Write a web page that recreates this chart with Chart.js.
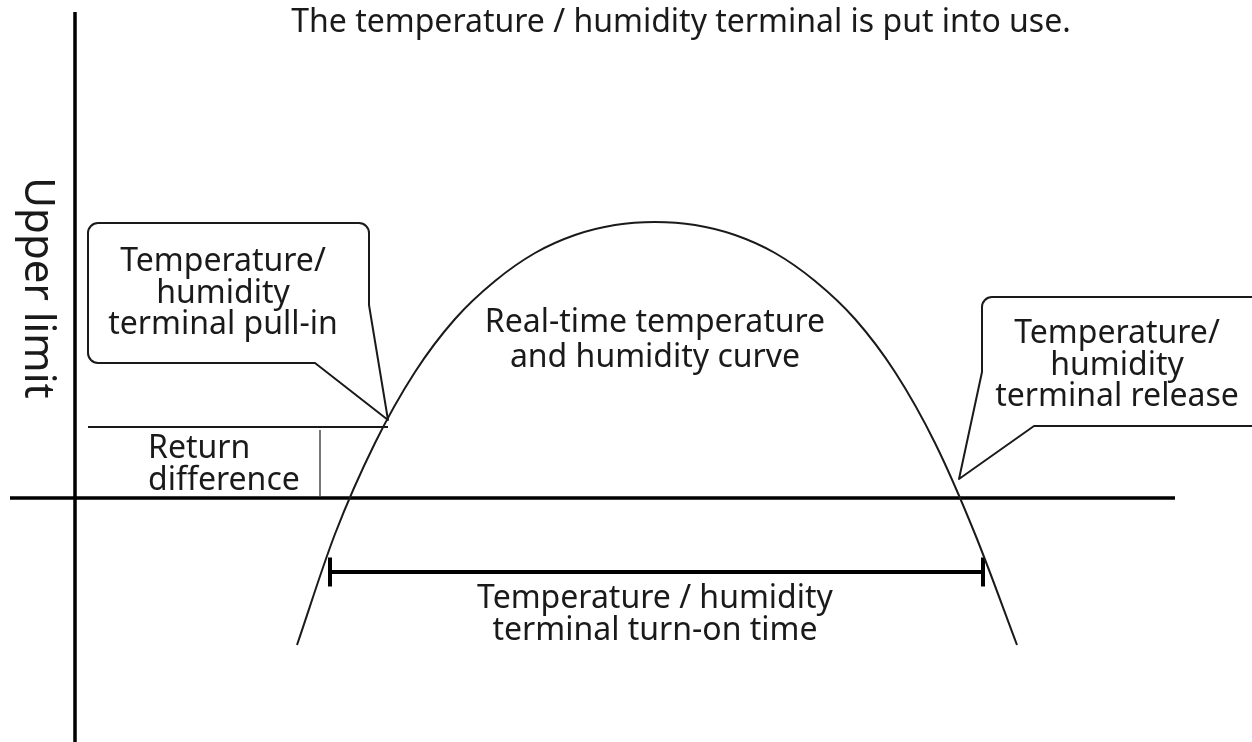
<!DOCTYPE html>
<html>
<head>
<meta charset="utf-8">
<title>Temperature / humidity terminal</title>
<script src="https://cdn.jsdelivr.net/npm/chart.js@4/dist/chart.umd.min.js"></script>
<style>
  html, body { margin: 0; padding: 0; background: #fff; }
  #wrap { width: 1252px; height: 742px; }
</style>
</head>
<body>
<div id="wrap"><canvas id="diagram" width="1252" height="742"></canvas></div>
<script>
// curve (x = time, y = value, axis origin at 0,0)
const curveX = [22.2, 26.0, 30.0, 34.0, 38.0, 42.0, 46.0, 50.0, 54.0, 58.0, 62.0, 66.0, 70.0, 74.0, 78.0, 82.0, 86.0, 90.0, 94.2];
const curveY = [-14.7, -3.6, 5.5, 12.6, 17.9, 21.7, 24.5, 26.3, 27.3, 27.6, 27.3, 26.3, 24.5, 21.7, 17.9, 12.6, 5.5, -3.6, -14.7];

// axes, upper limit, return difference and on-time bracket
const upperLimit = 7.1;
const limitFrom = 1.3, limitTo = 31.3;
const diffX = 24.5;
const onFrom = 25.5, onTo = 90.8, onLevel = -7.4, tickHalf = 1.45;
const yAxisTop = 48.6, yAxisBottom = -24.4;
const xAxisLeft = -6.5, xAxisRight = 110;

// texts
const titleText = 'The temperature / humidity terminal is put into use.';
const yAxisText = 'Upper limit';
const pullInText = ['Temperature/', 'humidity', 'terminal pull-in'];
const releaseText = ['Temperature/', 'humidity', 'terminal release'];
const diffText = ['Return', 'difference'];
const curveText = ['Real-time temperature', 'and humidity curve'];
const onTimeText = ['Temperature / humidity', 'terminal turn-on time'];

const seg = (x0, y0, x1, y1) => [{ x: x0, y: y0 }, { x: x1, y: y1 }];
const lineSet = (data, width, color) => ({
  data, showLine: true, pointRadius: 0, borderWidth: width, borderColor: color, tension: 0
});

// callouts and texts placed in data units, converted through the scales
const annot = {
  id: 'annot',
  afterDatasetsDraw(chart) {
    const { ctx, scales: { x, y } } = chart;
    const X = v => x.getPixelForValue(v), Y = v => y.getPixelForValue(v);
    const font = px => `${px}px "Noto Sans", sans-serif`;
    ctx.save();
    ctx.strokeStyle = '#1a1a1a';
    ctx.lineWidth = 2;
    ctx.lineJoin = 'round';
    const r = 10;

    // pull-in callout
    let L = X(1.3), R = X(29.4), T = Y(27.5), B = Y(13.5);
    ctx.beginPath();
    ctx.moveTo(L, T + r);
    ctx.arcTo(L, T, L + r, T, r);
    ctx.lineTo(R - r, T);
    ctx.arcTo(R, T, R, T + r, r);
    ctx.lineTo(R, Y(19.3));
    ctx.lineTo(X(31.3), Y(7.8));
    ctx.lineTo(X(24.0), B);
    ctx.lineTo(L + r, B);
    ctx.arcTo(L, B, L, B - r, r);
    ctx.closePath();
    ctx.stroke();

    // release callout
    L = X(90.7); R = X(121); T = Y(20.1); B = Y(7.2);
    ctx.beginPath();
    ctx.moveTo(L, Y(12.6));
    ctx.lineTo(L, T + r);
    ctx.arcTo(L, T, L + r, T, r);
    ctx.lineTo(R, T);
    ctx.lineTo(R, B);
    ctx.lineTo(X(95.9), B);
    ctx.lineTo(X(88.4), Y(1.9));
    ctx.closePath();
    ctx.stroke();

    ctx.fillStyle = '#1a1a1a';
    const lines = (arr, cx, y0, step, size, align) => {
      ctx.font = font(size);
      ctx.textAlign = align || 'center';
      ctx.textBaseline = 'alphabetic';
      arr.forEach((t, i) => ctx.fillText(t, X(cx), Y(y0) + i * step));
    };
    lines([titleText], 60.6, 46.6, 0, 32);
    lines(pullInText, 14.8, 22.7, 31.5, 32);
    lines(releaseText, 104.2, 15.5, 31.5, 32);
    lines(diffText, 7.3, 4.0, 32, 32, 'left');
    lines(curveText, 58.0, 16.6, 35, 32);
    lines(onTimeText, 58.0, -11.0, 32, 32);

    // rotated axis label
    ctx.translate(X(-3.8), Y(21.0));
    ctx.rotate(Math.PI / 2);
    ctx.font = font(42);
    ctx.textAlign = 'center';
    ctx.textBaseline = 'middle';
    ctx.fillText(yAxisText, 0, 0);
    ctx.restore();
  }
};

new Chart(document.getElementById('diagram'), {
  type: 'scatter',
  data: {
    datasets: [
      { data: curveX.map((v, i) => ({ x: v, y: curveY[i] })), showLine: true, pointRadius: 0,
        borderWidth: 2, borderColor: '#1a1a1a', cubicInterpolationMode: 'monotone' },
      lineSet(seg(0, yAxisTop, 0, yAxisBottom), 3.5, '#000'),
      lineSet(seg(xAxisLeft, 0, xAxisRight, 0), 3.5, '#000'),
      lineSet(seg(limitFrom, upperLimit, limitTo, upperLimit), 2, '#1a1a1a'),
      lineSet(seg(diffX, upperLimit - 0.3, diffX, 0.2), 2, '#777'),
      lineSet(seg(onFrom, onLevel, onTo, onLevel), 4, '#000'),
      lineSet(seg(onFrom, onLevel + tickHalf, onFrom, onLevel - tickHalf), 4, '#000'),
      lineSet(seg(onTo, onLevel + tickHalf, onTo, onLevel - tickHalf), 4, '#000')
    ]
  },
  options: {
    responsive: false,
    animation: false,
    layout: { padding: 0 },
    plugins: { legend: { display: false }, tooltip: { enabled: false } },
    scales: {
      x: { type: 'linear', min: -7.5, max: 117.7, display: false },
      y: { type: 'linear', min: -24.4, max: 49.8, display: false }
    }
  },
  plugins: [annot]
});
</script>
</body>
</html>
